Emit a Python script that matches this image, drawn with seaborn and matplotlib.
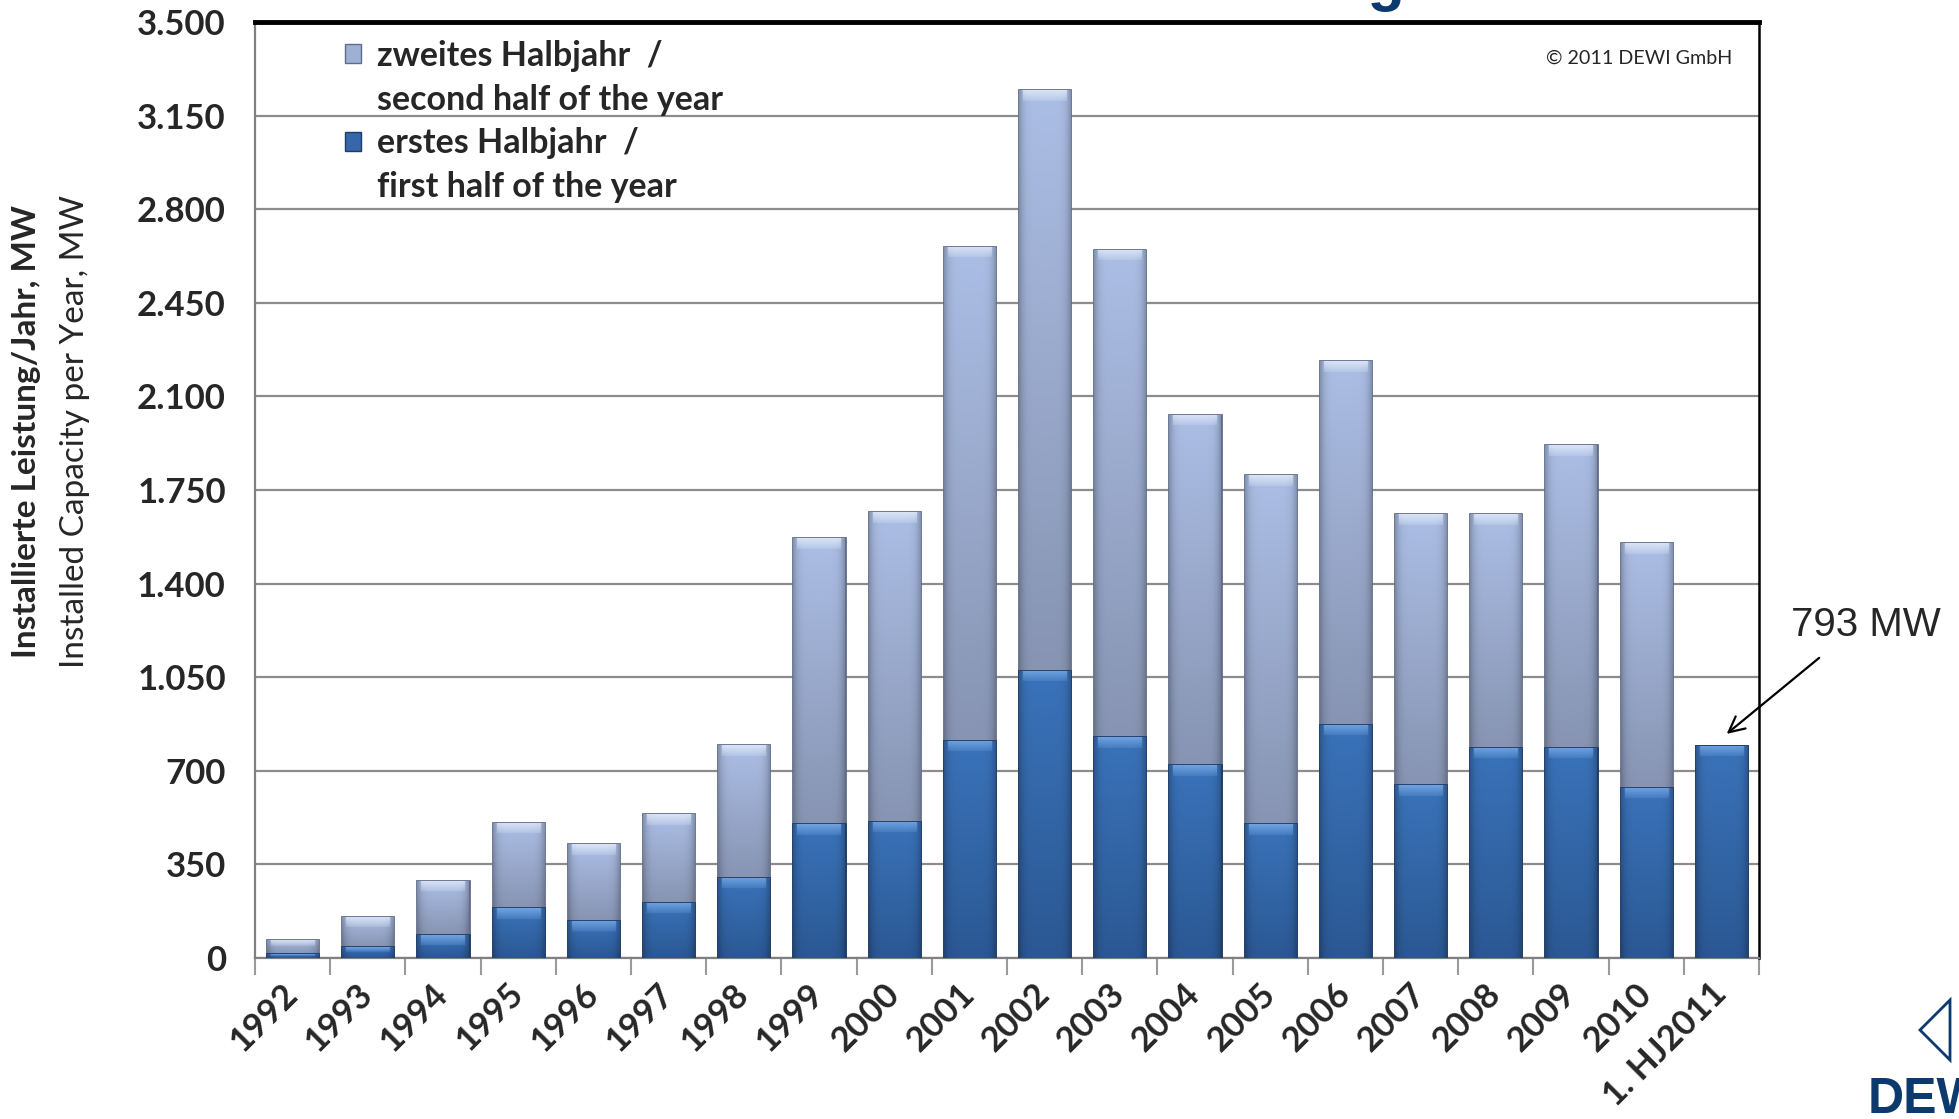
"""Annual installed wind capacity in Germany, split by half-year (DEWI 2011)."""

import matplotlib.pyplot as plt
import numpy as np
import pandas as pd
import seaborn as sns
from matplotlib.colors import to_rgb
from matplotlib.patches import Patch, Polygon

# values (MW)
years = ["1992", "1993", "1994", "1995", "1996", "1997", "1998", "1999", "2000",
         "2001", "2002", "2003", "2004", "2005", "2006", "2007", "2008", "2009",
         "2010", "1. HJ2011"]
first_half = [14, 40, 85, 186, 139, 206, 300, 501, 509, 812, 1075, 825, 720,
              501, 873, 646, 786, 786, 637, 793]
second_half = [55, 115, 203, 318, 286, 332, 496, 1069, 1157, 1848, 2171, 1824,
               1312, 1305, 1360, 1013, 874, 1131, 916, 0]
y_ticks = [0, 350, 700, 1050, 1400, 1750, 2100, 2450, 2800, 3150, 3500]
y_tick_labels = ["0", "350", "700", "1.050", "1.400", "1.750", "2.100",
                 "2.450", "2.800", "3.150", "3.500"]
label_2011 = "793 MW"

LIGHT = "#9eb1d5"
DARK = "#3567aa"
NAVY = "#0d3a6c"
PX_PER_MW = 936 / 3500


def shade_bar(ax, patch, y0, y1, top, bottom, shine):
    """Paint a glossy gradient into one bar segment (y0..y1) of a seaborn bar."""
    if y1 - y0 <= 0:
        return
    seg_px = (y1 - y0) * PX_PER_MW
    n = max(40, int(seg_px))
    t = np.linspace(0, 1, n)[:, None, None]  # 0 = bottom row
    img = np.array(to_rgb(bottom)) * (1 - t) + np.array(to_rgb(top)) * t
    u = np.linspace(-1, 1, 40)
    img = img * (1 - 0.22 * np.abs(u) ** 6)[None, :, None]
    # thin light bevel along the top edge, fading downwards
    strip = max(1, int(round(n * min(0.45, 11 / seg_px))))
    fade = np.linspace(0.2, 0.75, strip)[:, None, None]
    edge = np.abs(u) < 0.85
    img[-strip:, edge, :] = (img[-strip:, edge, :] * (1 - fade)
                             + np.array(to_rgb(shine)) * fade)
    img = img[::-1]  # imshow draws row 0 at the top
    x = patch.get_x()
    w = patch.get_width()
    im = ax.imshow(np.clip(img, 0, 1), extent=[x, x + w, y0, y1], aspect="auto",
                   interpolation="bilinear", zorder=patch.get_zorder() + 0.5)
    im.set_clip_path(patch)


df = pd.DataFrame({"year": years, "first": first_half, "second": second_half})
df["total"] = df["first"] + df["second"]

sns.set_theme(style="white")
plt.rcParams["font.family"] = ["Lato", "DejaVu Sans"]

W, H = 1959, 1119
fig = plt.figure(figsize=(W / 100, H / 100), dpi=100)
ax = fig.add_axes([255 / W, 1 - 958 / H, 1504 / W, 936 / H])

sns.barplot(data=df, x="year", y="total", order=years, color=LIGHT, width=0.68,
            edgecolor="#5e6c88", linewidth=2, saturation=1, ax=ax, zorder=3)
sns.barplot(data=df, x="year", y="first", order=years, color=DARK, width=0.68,
            edgecolor="#1f3b68", linewidth=2, saturation=1, ax=ax, zorder=5)

n = len(years)
light_bars = ax.patches[:n]
dark_bars = ax.patches[n:2 * n]
for lb, db in zip(light_bars, dark_bars):
    shade_bar(ax, lb, db.get_height(), lb.get_height(), "#abbee5", "#8794b2",
              "#e8f0fc")
    shade_bar(ax, db, 0, db.get_height(), "#3a73ba", "#2b5893", "#7fb2ee")

ax.set_xlim(-0.5, n - 0.5)
ax.set_ylim(0, 3500)
ax.set_xlabel("")
ax.set_ylabel("")

ax.set_yticks(y_ticks, labels=y_tick_labels)
ax.yaxis.grid(True, color="#8c8c8c", linewidth=1.6, zorder=0)
ax.set_axisbelow(True)
ax.tick_params(axis="y", length=9, width=1.5, color="#808080", pad=12,
               labelsize=25)
plt.setp(ax.get_yticklabels(), fontweight="bold")

ax.set_xticks(range(n), labels=years)
ax.tick_params(axis="x", which="major", length=0, pad=22, labelsize=25,
               labelrotation=45)
plt.setp(ax.get_xticklabels(), fontweight="bold", ha="right", va="center",
         rotation_mode="anchor")
ax.set_xticks(np.arange(-0.5, n), minor=True)
ax.tick_params(axis="x", which="minor", length=12, width=1.5, color="#9a9a9a",
               direction="out", bottom=True)

for side in ("left", "bottom"):
    ax.spines[side].set_color("#808080")
    ax.spines[side].set_linewidth(1.6)
ax.spines["top"].set_color("black")
ax.spines["top"].set_linewidth(3.5)
ax.spines["right"].set_color("black")
ax.spines["right"].set_linewidth(1.8)

# legend: markers sit on the first line of each two-line label
blank = Patch(facecolor="none", edgecolor="none")
handles = [Patch(facecolor=LIGHT, edgecolor="#5e6c88"), blank,
           Patch(facecolor=DARK, edgecolor="#1f3b68"), blank]
labels = ["zweites Halbjahr  /", "second half of the year",
          "erstes Halbjahr  /", "first half of the year"]
leg = ax.legend(handles, labels, loc="upper left",
                bbox_to_anchor=(345 / W, 1 - 40 / H),
                bbox_transform=fig.transFigure, frameon=False,
                borderpad=0, borderaxespad=0, handlelength=0.48,
                handleheight=0.48, handletextpad=0.47, labelspacing=0.34,
                prop={"size": 24.5, "weight": "bold"})

ax.text(1732 / W, 1 - 58 / H, "\u00a9 2011 DEWI GmbH", transform=fig.transFigure,
        ha="right", va="center", fontsize=14.2)

# annotation for the first half of 2011
ax.annotate(label_2011, xy=(n - 1 + 0.07, first_half[-1] + 45),
            xycoords="data", xytext=(1866 / W, 1 - 625 / H),
            textcoords="figure fraction", ha="center", va="center",
            fontsize=29, family="Liberation Sans", annotation_clip=False,
            arrowprops=dict(arrowstyle="->", color="black", lw=1.6,
                            mutation_scale=28, shrinkA=12, shrinkB=0,
                            relpos=(0.3, 0.0)))

# axis titles
fig.text(27 / W, 1 - 432 / H, "Installierte Leistung/Jahr, MW", rotation=90,
         ha="center", va="center", fontsize=24, fontweight="bold")
fig.text(75 / W, 1 - 432 / H, "Installed Capacity per Year, MW", rotation=90,
         ha="center", va="center", fontsize=24)

# slide title, cut off by the top edge as in the source
fig.text(1050 / W, 1 + 0.5 / H, "Neu installierte Leistung", ha="center",
         va="baseline", fontsize=44, fontweight="bold", color=NAVY,
         family="Liberation Sans")

# DEWI logo, partly outside the frame
fig.text(1868 / W, 6 / H, "DEWI", ha="left", va="baseline", fontsize=36,
         fontweight="bold", color=NAVY, family="Liberation Sans")
fig.patches.append(Polygon([(1950 / W, 1 - 1000 / H), (1920 / W, 1 - 1030 / H),
                            (1950 / W, 1 - 1060 / H)], closed=True, fill=False,
                           edgecolor=NAVY, linewidth=2,
                           transform=fig.transFigure, figure=fig))

fig.savefig("out.png", dpi=100)
